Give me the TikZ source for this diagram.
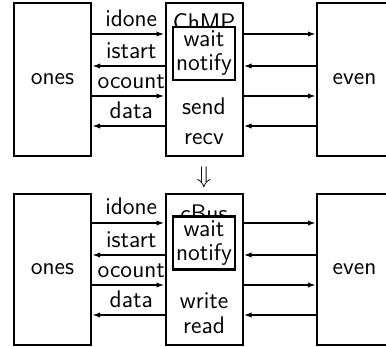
\documentclass[tikz,border=0pt]{standalone}
\usepackage{tikz}
\usetikzlibrary{arrows.meta}
\tikzset{
	>={Latex[length=4pt,width=2.6pt]},
	every node/.style={font=\sffamily\fontsize{12}{12}\selectfont},
	proc/.style={draw, line width=1pt, minimum width=38.5pt, inner sep=0pt},
	evbox/.style={draw, line width=1.3pt, fill=white, align=center, minimum width=31pt, minimum height=26.5pt, inner sep=0pt},
	sig/.style={line width=1pt},
	fwd/.style={->},
	bwd/.style={<-},
}

\begin{document}
\begin{tikzpicture}[x=0.5pt, y=-0.5pt]
	\useasboundingbox (0,0) rectangle (386,347);
	\clip (0,0) rectangle (386,347);
	% channel with ChMP
	\node[proc, minimum height=76.5pt] (ones1) at (52.5,79.5) {ones};
	\node[proc, minimum height=76.5pt] (chmp) at (204,79.5) {};
	\node[proc, minimum height=76.5pt, minimum width=37.5pt] (even1) at (354.5,79.5) {even};
	\node[anchor=base] (chmpname) at (204,31) {ChMP};
	\node[evbox] (evchmp) at (204,53.5) {wait\\notify};
	\node[anchor=base] (send) at (204,115) {send};
	\node[anchor=base] (recv) at (204,145) {recv};
	\foreach \y/\d/\t in {34/fwd/idone, 66/bwd/istart, 96/fwd/ocount, 126/bwd/data} {
		\draw[sig, \d] (ones1.east |- 0,\y) -- (chmp.west |- 0,\y) node[midway, above, xshift=1.5pt] {\t};
		\draw[sig, \d] (chmp.east |- 0,\y) -- (even1.west |- 0,\y);
	}

	\node (down) at (204,178) {$ \Downarrow $};

	% channel with cBus
	\node[proc, minimum height=75.5pt] (ones2) at (52.5,269.5) {ones};
	\node[proc, minimum height=75.5pt] (cbus) at (204,269.5) {};
	\node[proc, minimum height=75.5pt, minimum width=37.5pt] (even2) at (354.5,269.5) {even};
	\node[anchor=base] (cbusname) at (204,222) {cBus};
	\node[evbox] (evcbus) at (204,243) {wait\\notify};
	\node[anchor=base] (write) at (204,309) {write};
	\node[anchor=base] (read) at (204,334) {read};
	\foreach \y/\d/\t/\w in {223/fwd/idone/1.4pt, 255/bwd/istart/1pt, 285/fwd/ocount/1pt, 315/bwd/data/1pt} {
		\draw[sig, line width=\w, \d] (ones2.east |- 0,\y) -- (cbus.west |- 0,\y) node[midway, above, xshift=1.5pt] {\t};
		\draw[sig, line width=\w, \d] (cbus.east |- 0,\y) -- (even2.west |- 0,\y);
	}
\end{tikzpicture}
\end{document}
